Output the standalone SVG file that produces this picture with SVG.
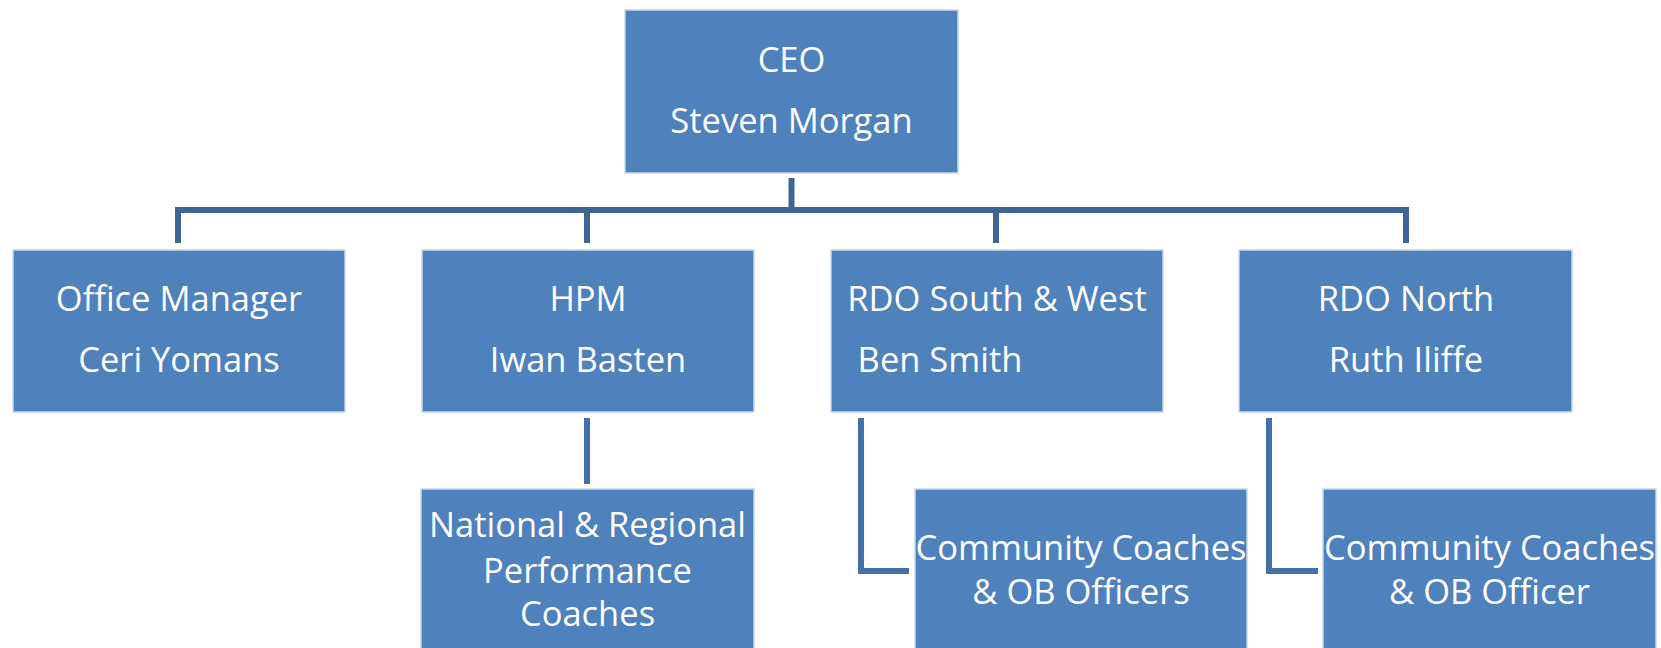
<svg xmlns="http://www.w3.org/2000/svg" width="1661" height="648" viewBox="0 0 1661 648">
<style>
.box{fill:#4f81bd;stroke:#c9d7ea;stroke-width:1.5}
.t{fill:#ffffff;font-family:"Open Sans","Liberation Sans",Arial,sans-serif;font-size:34.5px;text-anchor:middle}
.c1{fill:none;stroke:#3e6594;stroke-width:6}
.c2{fill:none;stroke:#4571a9;stroke-width:6}
</style>
<rect width="1661" height="648" fill="#ffffff"/>
<g id="connectors">
<path class="c1" d="M791.5 178V210M178 243V210H1406V243M587 210V243M996 210V243"/>
<path class="c2" d="M587 418V484"/>
<path class="c2" d="M861 418V571H909"/>
<path class="c2" d="M1269 418V571H1318"/>
</g>
<g id="ceo">
<rect class="box" x="625" y="10" width="333" height="163"/>
<text class="t" x="791.5" y="72">CEO</text>
<text class="t" x="791.5" y="133">Steven Morgan</text>
</g>
<g id="office">
<rect class="box" x="13" y="250" width="332" height="162"/>
<text class="t" x="179" y="311">Office Manager</text>
<text class="t" x="179" y="372">Ceri Yomans</text>
</g>
<g id="hpm">
<rect class="box" x="422" y="250" width="332" height="162"/>
<text class="t" x="588" y="311">HPM</text>
<text class="t" x="588" y="372">Iwan Basten</text>
</g>
<g id="rdo-south">
<rect class="box" x="831" y="250" width="332" height="162"/>
<text class="t" x="997" y="311">RDO South &amp; West</text>
<text class="t" x="940" y="372">Ben Smith</text>
</g>
<g id="rdo-north">
<rect class="box" x="1239" y="250" width="333" height="162"/>
<text class="t" x="1406" y="311">RDO North</text>
<text class="t" x="1406" y="372">Ruth Iliffe</text>
</g>
<g id="coaches-national">
<rect class="box" x="421" y="489" width="333" height="165"/>
<text class="t" x="587.5" y="537">National &amp; Regional</text>
<text class="t" x="587.5" y="583">Performance</text>
<text class="t" x="587.5" y="626">Coaches</text>
</g>
<g id="community-south">
<rect class="box" x="915" y="489" width="332" height="165"/>
<text class="t" x="1081" y="560">Community Coaches</text>
<text class="t" x="1081" y="604">&amp; OB Officers</text>
</g>
<g id="community-north">
<rect class="box" x="1323" y="489" width="333" height="165"/>
<text class="t" x="1489.5" y="560">Community Coaches</text>
<text class="t" x="1489.5" y="604">&amp; OB Officer</text>
</g>
</svg>
